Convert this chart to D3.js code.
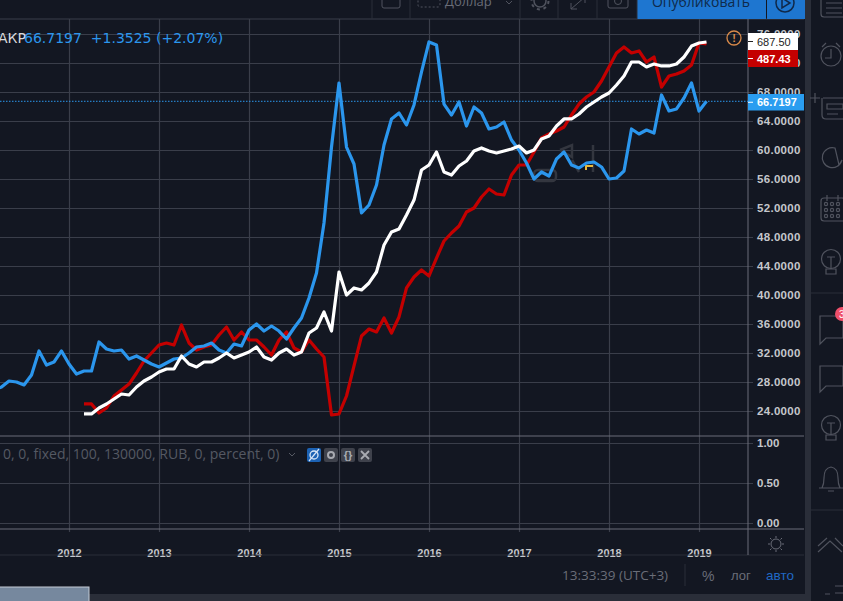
<!DOCTYPE html>
<html>
<head>
<meta charset="utf-8">
<script src="https://d3js.org/d3.v7.min.js"></script>
<style>
  html, body { margin: 0; padding: 0; background: #131722; overflow: hidden; }
  text { font-family: "Liberation Sans", Arial, sans-serif; }
</style>
</head>
<body>
<div id="chart"></div>
<script>
// monthly closes (in units of the right price scale)
// blue starts 2011-03, red and white start 2012-03, all end 2019-02
var blueValues = [26.9, 27.31, 28.14, 28.0, 27.59, 28.97, 32.28, 30.34, 30.76, 32.28,
  30.48, 29.10, 29.52, 29.52, 33.52, 32.55, 32.28, 32.41, 31.17, 31.59, 31.03, 30.48,
  30.07, 30.62, 31.17, 31.31, 32.0, 32.83, 32.97, 33.38, 32.41, 32.0, 33.24, 32.97,
  35.17, 36.0, 35.03, 35.72, 35.03, 33.93, 35.45, 36.83, 39.59, 43.03, 49.93, 60.41,
  69.24, 60.41, 58.07, 51.31, 52.41, 55.17, 60.69, 64.28, 65.10, 63.45, 66.21, 70.76,
  74.90, 74.48, 66.34, 64.83, 66.62, 63.31, 65.93, 65.10, 62.90, 63.17, 63.86, 61.38,
  60.0, 58.21, 56.0, 56.97, 56.41, 58.76, 59.72, 57.93, 57.52, 58.21, 58.34, 57.66,
  56.0, 56.14, 57.10, 62.90, 62.21, 62.76, 62.34, 67.59, 65.38, 65.66, 67.17, 69.24,
  65.37, 66.72];

var redValues = [24.97, 24.97, 23.72, 24.41, 26.07, 26.90, 27.72, 29.24, 30.90, 32.0,
  33.10, 33.38, 33.10, 35.86, 33.38, 32.41, 32.83, 33.10, 34.48, 35.59, 33.79, 34.90,
  33.79, 33.79, 32.83, 31.72, 33.79, 34.90, 32.69, 32.14, 33.79, 32.55, 31.45, 23.45,
  23.59, 26.07, 30.21, 34.34, 35.31, 34.90, 36.83, 34.76, 36.97, 40.97, 42.48, 43.45,
  42.62, 45.10, 47.45, 48.55, 49.52, 51.45, 52.0, 53.52, 54.62, 53.93, 53.79, 56.55,
  57.93, 57.93, 59.72, 61.66, 62.21, 62.62, 63.17, 64.83, 66.34, 67.31, 68.0, 69.52,
  71.45, 73.38, 74.21, 73.38, 73.66, 72.14, 72.83, 68.69, 70.21, 70.48, 70.90, 71.72,
  74.76, 74.62];

var whiteValues = [23.59, 23.59, 24.41, 24.97, 25.66, 26.34, 26.21, 27.31, 28.14, 28.69,
  29.38, 29.79, 29.79, 31.59, 30.48, 30.07, 30.76, 30.76, 31.31, 32.0, 31.31, 31.72,
  32.14, 32.83, 31.45, 31.03, 32.0, 32.55, 31.72, 32.14, 34.76, 35.45, 37.66, 35.03,
  43.17, 40.0, 40.97, 40.69, 41.66, 43.17, 46.90, 48.69, 49.10, 51.03, 53.10, 57.24,
  57.93, 59.72, 56.97, 56.55, 57.79, 58.48, 59.86, 60.28, 59.86, 59.59, 59.86, 60.14,
  60.55, 59.59, 60.0, 61.52, 61.93, 63.31, 64.28, 64.28, 64.97, 65.93, 66.62, 67.31,
  67.86, 68.97, 70.21, 72.14, 72.14, 71.45, 71.86, 71.59, 71.59, 71.86, 72.83, 74.34,
  74.76, 74.90];

var blueStart = -10, lineStart = 2;   // months from 2012-01
var yearTicks = [0, 12, 24, 36, 48, 60, 72, 84];
var yearLabels = ["2012", "2013", "2014", "2015", "2016", "2017", "2018", "2019"];
var priceTicks = [24, 28, 32, 36, 40, 44, 48, 52, 56, 60, 64, 68, 72, 76];
var paneTicks = [0, 0.5, 1];
var lastPrice = 66.7197;

var legendName = "АКР";
var legendValues = "66.7197  +1.3525 (+2.07%)";
var studyText = "0, 0, fixed, 100, 130000, RUB, 0, percent, 0)";
var whiteTag = "687.50", redTag = "487.43", blueTag = "66.7197";
var clockText = "13:33:39 (UTC+3)";

var width = 843, height = 601,
    plotRight = 748, scaleRight = 804,
    plotTop = 19, paneTop = 436, axisTop = 529, axisBottom = 555;

var bg = "#131722", grid = "#3a3e4a", border = "#6a6d78", faint = "#2a2e39",
    muted = "#555963", icon = "#50535e", blue = "#2b96ed", red = "#c40000", label = "#c5c7cc";

var svg = d3.select("#chart").append("svg")
    .attr("width", width).attr("height", height)
    .style("display", "block").style("background", bg);

var xScale = d3.scaleLinear().domain([0, 84]).range([69, 699]);
var yScale = d3.scaleLinear().domain([24, 76]).range([411, 34]);
var paneScale = d3.scaleLinear().domain([0, 1]).range([523, 443]);

svg.append("defs").append("clipPath").attr("id", "plot")
  .append("rect").attr("x", 0).attr("y", plotTop).attr("width", plotRight).attr("height", paneTop - plotTop);

// vertical grid + year labels
var xAxis = d3.axisBottom(xScale).tickValues(yearTicks)
    .tickSize(axisTop + 3 - plotTop).tickPadding(5)
    .tickFormat(function (d, i) { return yearLabels[i]; });
var xg = svg.append("g").attr("transform", "translate(0," + plotTop + ")").call(xAxis);
xg.select(".domain").remove();
xg.selectAll("line").attr("stroke", grid).attr("stroke-width", 1.2);
xg.selectAll("text").attr("fill", label).attr("font-size", 11).attr("font-weight", "bold")
  .attr("y", axisTop + 20 - plotTop);

// horizontal grid + price labels
var yAxis = d3.axisRight(yScale).tickValues(priceTicks)
    .tickSize(plotRight + 5).tickPadding(4)
    .tickFormat(function (d) { return d3.format(".4f")(d); });
var yg = svg.append("g").call(yAxis);
yg.select(".domain").remove();
yg.selectAll("line").attr("stroke", grid).attr("stroke-width", 1.2);
yg.selectAll("text").attr("fill", label).attr("font-size", 11.5).attr("letter-spacing", 0.3).attr("font-weight", "bold");

// lower pane scale
var paneAxis = d3.axisRight(paneScale).tickValues(paneTicks)
    .tickSize(plotRight + 5).tickPadding(4)
    .tickFormat(d3.format(".2f"));
var pg = svg.append("g").call(paneAxis);
pg.select(".domain").remove();
pg.selectAll("line").attr("stroke", grid).attr("stroke-width", 1.2);
pg.selectAll("text").attr("fill", label).attr("font-size", 11.5).attr("font-weight", "bold");

// pane borders
function hline(y, x0, x1, color, w) {
  svg.append("line").attr("x1", x0).attr("x2", x1).attr("y1", y).attr("y2", y)
    .attr("stroke", color).attr("stroke-width", w || 1);
}
function vline(x, y0, y1, color, w) {
  svg.append("line").attr("x1", x).attr("x2", x).attr("y1", y0).attr("y2", y1)
    .attr("stroke", color).attr("stroke-width", w || 1);
}
hline(plotTop, 0, scaleRight, grid);
hline(paneTop, 0, scaleRight, border);
hline(axisTop, 0, scaleRight, border);
hline(axisBottom, 0, scaleRight, faint);
vline(plotRight, plotTop, axisBottom, border);

// the three lines
function drawLine(values, start, color) {
  var line = d3.line()
      .x(function (d, i) { return xScale(start + i); })
      .y(function (d) { return yScale(d); });
  svg.append("path").datum(values)
      .attr("clip-path", "url(#plot)")
      .attr("fill", "none").attr("stroke", color)
      .attr("stroke-width", 3.2).attr("stroke-linejoin", "round")
      .attr("d", line);
}

// faint watermark under the lines
var wm = svg.append("g").attr("fill", "none").attr("stroke", "#33363f").attr("stroke-width", 2.5);
wm.append("rect").attr("x", 534).attr("y", 170).attr("width", 22).attr("height", 11).attr("rx", 4);
wm.append("path").attr("d", "M560 150 L572 145 L572 157 L560 150 M572 160 L579 172");
wm.append("path").attr("d", "M593 145 L593 172");
svg.append("path").attr("d", "M586 170 L586 166 L593 166").attr("fill", "none")
  .attr("stroke", "#e8b93a").attr("stroke-width", 2);

// last price dotted line
svg.append("line").attr("x1", 0).attr("x2", plotRight)
  .attr("y1", yScale(lastPrice)).attr("y2", yScale(lastPrice))
  .attr("stroke", blue).attr("stroke-width", 1).attr("stroke-dasharray", "1.5,1.5");

drawLine(redValues, lineStart, red);
drawLine(blueValues, blueStart, blue);
drawLine(whiteValues, lineStart, "#ffffff");

// price tags
function tag(y0, h, w, fill, color, txt, bold) {
  svg.append("rect").attr("x", plotRight).attr("y", y0).attr("width", w).attr("height", h).attr("fill", fill);
  svg.append("line").attr("x1", plotRight).attr("x2", plotRight + 5)
    .attr("y1", y0 + h / 2).attr("y2", y0 + h / 2).attr("stroke", color);
  svg.append("text").attr("x", plotRight + 9).attr("y", y0 + h / 2 + 4).attr("fill", color)
    .attr("font-size", 11).attr("font-weight", bold ? "bold" : "normal").text(txt);
}
tag(33, 17, 50, "#ffffff", "#222222", whiteTag, false);
tag(50, 17, 50, "#c40000", "#ffffff", redTag, true);
tag(94, 16.5, 56, "#2a9df0", "#ffffff", blueTag, true);

// warning badge
svg.append("circle").attr("cx", 734).attr("cy", 38).attr("r", 7).attr("fill", "none")
  .attr("stroke", "#d98a4a").attr("stroke-width", 1.3);
svg.append("text").attr("x", 734).attr("y", 42).attr("text-anchor", "middle").attr("fill", "#d98a4a")
  .attr("font-size", 11).attr("font-weight", "bold").text("!");

// legend
svg.append("text").attr("x", -2).attr("y", 43).attr("fill", "#d8d9dc").attr("font-size", 14)
  .attr("style", "font-family:'DejaVu Sans'").text(legendName);
svg.append("text").attr("x", 24).attr("y", 43).attr("fill", blue).attr("font-size", 14)
  .attr("style", "font-family:'DejaVu Sans';white-space:pre").text(legendValues);

// study legend
svg.append("text").attr("x", 3).attr("y", 459).attr("fill", muted).attr("font-size", 14)
  .attr("style", "font-family:'Open Sans'").text(studyText);
svg.append("path").attr("d", "M289 453 L292 456 L295 453").attr("fill", "none").attr("stroke", muted);
var studyIcons = [{x: 307, f: "#1c62b4"}, {x: 324, f: "#3f424c"}, {x: 341, f: "#3f424c"}, {x: 358, f: "#3f424c"}];
studyIcons.forEach(function (d) {
  svg.append("rect").attr("x", d.x).attr("y", 448).attr("width", 14).attr("height", 14).attr("rx", 2).attr("fill", d.f);
});
svg.append("circle").attr("cx", 314).attr("cy", 455).attr("r", 4).attr("fill", "none").attr("stroke", "#d8e6f6").attr("stroke-width", 1.3);
svg.append("path").attr("d", "M309 461 L319 449").attr("stroke", "#d8e6f6").attr("stroke-width", 1.2);
svg.append("circle").attr("cx", 331).attr("cy", 455).attr("r", 3).attr("fill", "none").attr("stroke", "#a9abb2").attr("stroke-width", 2);
svg.append("text").attr("x", 348).attr("y", 459).attr("text-anchor", "middle").attr("fill", "#a9abb2").attr("font-size", 11).attr("font-weight", "bold").text("{}");
svg.append("path").attr("d", "M361 451 L369 459 M369 451 L361 459").attr("stroke", "#a9abb2").attr("stroke-width", 1.8);

// axis corner gear
svg.append("circle").attr("cx", 776).attr("cy", 544).attr("r", 5).attr("fill", "none").attr("stroke", "#6a6d78");
svg.append("path").attr("d", "M776 536 V538 M776 550 V552 M768 544 H770 M782 544 H784 M770 538 L771.5 539.5 M782 538 L780.5 539.5 M770 550 L771.5 548.5 M782 550 L780.5 548.5")
  .attr("stroke", "#6a6d78");

// bottom bar
svg.append("text").attr("x", 562).attr("y", 580).attr("fill", "#6a6d78").attr("font-size", 13.5)
  .attr("style", "font-family:'Open Sans'").text(clockText);
vline(685, 564, 586, faint);
svg.append("text").attr("x", 702).attr("y", 581).attr("fill", "#6a6d78").attr("font-size", 14).text("%");
svg.append("text").attr("x", 731).attr("y", 580).attr("fill", "#6a6d78").attr("font-size", 13).text("лог");
svg.append("text").attr("x", 766).attr("y", 580).attr("fill", "#2068c4").attr("font-size", 13.5).text("авто");
svg.append("rect").attr("x", 0).attr("y", 594).attr("width", 810).attr("height", 7).attr("fill", faint);
svg.append("rect").attr("x", -1).attr("y", 587).attr("width", 90).attr("height", 15)
  .attr("fill", "#76889e").attr("stroke", "#c5ccd6");

// top toolbar
svg.append("rect").attr("x", 637).attr("y", 0).attr("width", 129).attr("height", 19).attr("fill", "#1e76d0");
svg.append("rect").attr("x", 767).attr("y", 0).attr("width", 38).attr("height", 19).attr("fill", "#1e76d0");
svg.append("text").attr("x", 701).attr("y", 7).attr("text-anchor", "middle").attr("fill", "#0f2a4a").attr("font-size", 14)
  .attr("style", "font-family:'Open Sans'").text("Опубликовать");
svg.append("circle").attr("cx", 785).attr("cy", 3).attr("r", 9).attr("fill", "none").attr("stroke", "#10294a").attr("stroke-width", 1.5);
svg.append("path").attr("d", "M782 -2 L790 3 L782 8 Z").attr("fill", "none").attr("stroke", "#10294a").attr("stroke-width", 1.5);
[372, 410, 520, 558, 597, 637].forEach(function (x) { vline(x, 0, plotTop, faint); });
svg.append("rect").attr("x", 382).attr("y", -8).attr("width", 18).attr("height", 16).attr("rx", 2).attr("fill", "none").attr("stroke", icon);
svg.append("rect").attr("x", 418).attr("y", -6).attr("width", 22).attr("height", 13).attr("rx", 2).attr("fill", "none").attr("stroke", icon).attr("stroke-dasharray", "2,2");
svg.append("text").attr("x", 445).attr("y", 6).attr("fill", "#6a6d78").attr("font-size", 13).attr("style", "font-family:'Open Sans'").text("Доллар");
svg.append("path").attr("d", "M506 1 L509 4 L512 1").attr("fill", "none").attr("stroke", icon);
svg.append("circle").attr("cx", 540).attr("cy", 1).attr("r", 6).attr("fill", "none").attr("stroke", icon).attr("stroke-width", 1.5);
svg.append("circle").attr("cx", 540).attr("cy", 1).attr("r", 8.5).attr("fill", "none").attr("stroke", icon).attr("stroke-width", 2).attr("stroke-dasharray", "3,3.7");
svg.append("path").attr("d", "M571 9 L585 -3 M571 3 V9 H577 M579 -3 H585 V3").attr("fill", "none").attr("stroke", icon);
svg.append("rect").attr("x", 608).attr("y", -6).attr("width", 20).attr("height", 14).attr("rx", 2).attr("fill", "none").attr("stroke", icon);
svg.append("circle").attr("cx", 618).attr("cy", 1).attr("r", 3.5).attr("fill", "none").attr("stroke", icon);

// right sidebar
svg.append("rect").attr("x", 805).attr("y", 0).attr("width", 6).attr("height", height).attr("fill", faint);
hline(293, 811, width, faint);
hline(510, 811, width, faint);
var side = svg.append("g").attr("fill", "none").attr("stroke", icon).attr("stroke-width", 1.2);
side.append("rect").attr("x", 821).attr("y", -6).attr("width", 24).attr("height", 23).attr("rx", 3);
side.append("path").attr("d", "M826 3 H842 M826 8 H842 M826 13 H842");
side.append("circle").attr("cx", 831).attr("cy", 56).attr("r", 10);
side.append("path").attr("d", "M831 49 V58 H825 M822 47 L826 43 M840 47 L836 43");
side.append("path").attr("d", "M815 93 V103 M810 98 H820 M823 98 H843 M822 98 V115 Q822 119 826 119 H843 M827 104 H843 V109 H827 Z M827 114 H838");
side.append("path").attr("d", "M835 148 A10 10 0 1 0 842 160 L839 165 L836 152 Z");
side.append("rect").attr("x", 821).attr("y", 198).attr("width", 24).attr("height", 23).attr("rx", 3);
side.append("path").attr("d", "M827 195 V201 M838 195 V201");
[204, 210, 216].forEach(function (y) {
  [826, 832, 838].forEach(function (x) { side.append("circle").attr("cx", x).attr("cy", y).attr("r", 1.6); });
});
function bulb(cy) {
  side.append("circle").attr("cx", 831).attr("cy", cy).attr("r", 9.5);
  side.append("path").attr("d", "M826 " + (cy + 10) + " H836 V" + (cy + 15) + " H826 Z M827 " + (cy - 2) + " H835 M831 " + (cy - 2) + " V" + (cy + 10));
}
bulb(259);
side.append("path").attr("d", "M820 316 H843 V338 H826 L820 344 Z");
side.append("path").attr("d", "M820 366 H843 V386 H826 L820 392 Z");
bulb(425);
side.append("path").attr("d", "M819 488 H843 M822 488 Q824 484 824 478 Q824 468 831 467 Q838 468 838 478 Q838 484 840 488 M828 491 H834");
side.append("path").attr("d", "M818 552 L830 541 L842 552 M818 546 L827 538 M835 538 L843 546");
side.append("path").attr("d", "M825 594 H830 M835 586 H843 M835 593 H843");
svg.append("circle").attr("cx", 842).attr("cy", 314).attr("r", 7).attr("fill", "#ef4f6a");
svg.append("text").attr("x", 839).attr("y", 318).attr("fill", "#ffffff").attr("font-size", 10).text("3");
</script>
</body>
</html>
